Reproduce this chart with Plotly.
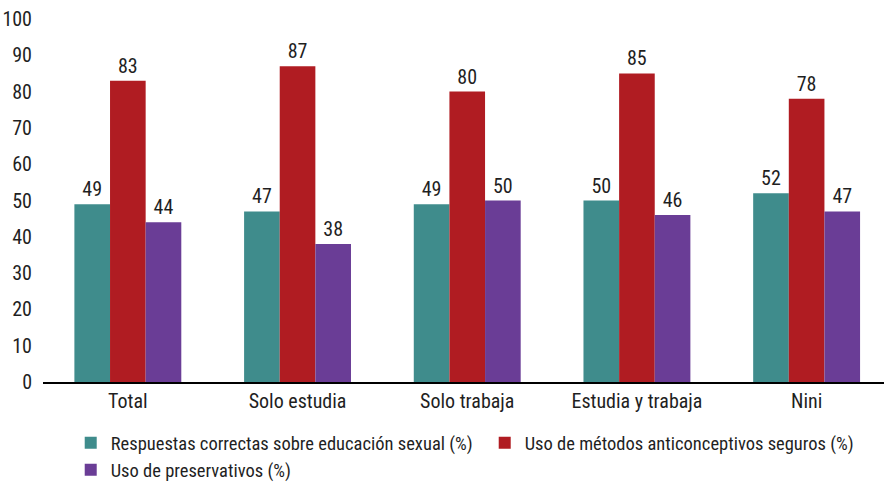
import plotly.graph_objects as go

categories = ["Total", "Solo estudia", "Solo trabaja", "Estudia y trabaja", "Nini"]
series_names = [
    "Respuestas correctas sobre educación sexual (%)",
    "Uso de métodos anticonceptivos seguros (%)",
    "Uso de preservativos (%)",
]
educacion = [49, 47, 49, 50, 52]
anticonceptivos = [83, 87, 80, 85, 78]
preservativos = [44, 38, 50, 46, 47]
colors = ["#3f8c8c", "#b01c22", "#6a3d96"]
y_ticks = list(range(0, 101, 10))

FONT = "Roboto Condensed, Liberation Sans Narrow, sans-serif"
TXT = "#1f1f1f"

fig = go.Figure()
for name, vals, col in zip(series_names, [educacion, anticonceptivos, preservativos], colors):
    fig.add_trace(go.Bar(
        x=categories, y=vals, name=name,
        marker=dict(color=col, line=dict(width=0)),
        text=[str(v) for v in vals], textposition="outside",
        textfont=dict(family=FONT, size=20, color=TXT),
        cliponaxis=False,
    ))

fig.update_layout(
    width=884, height=482,
    margin=dict(l=43, r=0, t=19, b=100, autoexpand=False),
    paper_bgcolor="white", plot_bgcolor="white",
    barmode="group", bargap=0.37, bargroupgap=0,
    font=dict(family=FONT, size=20, color=TXT),
    showlegend=True,
    legend=dict(orientation="h", xref="container", yref="container",
                x=0.08, y=0.12, xanchor="left", yanchor="top",
                font=dict(family=FONT, size=18.5, color=TXT),
                traceorder="normal", itemwidth=30, entrywidth=369,
                tracegroupgap=0),
    xaxis=dict(type="category", range=[-0.5, 4.456], showgrid=False,
               showline=True, linecolor="#000000", linewidth=1.5, automargin=False,
               ticks="", tickfont=dict(family=FONT, size=20, color=TXT)),
    yaxis=dict(range=[0, 100], tickvals=y_ticks, showgrid=False, zeroline=False,
               showline=False, ticks="", ticklabelstandoff=10, automargin=False,
               tickfont=dict(family=FONT, size=20, color=TXT)),
)

fig.write_html("out.html", config={"displayModeBar": False},
               post_script="document.body.style.margin='0';")
